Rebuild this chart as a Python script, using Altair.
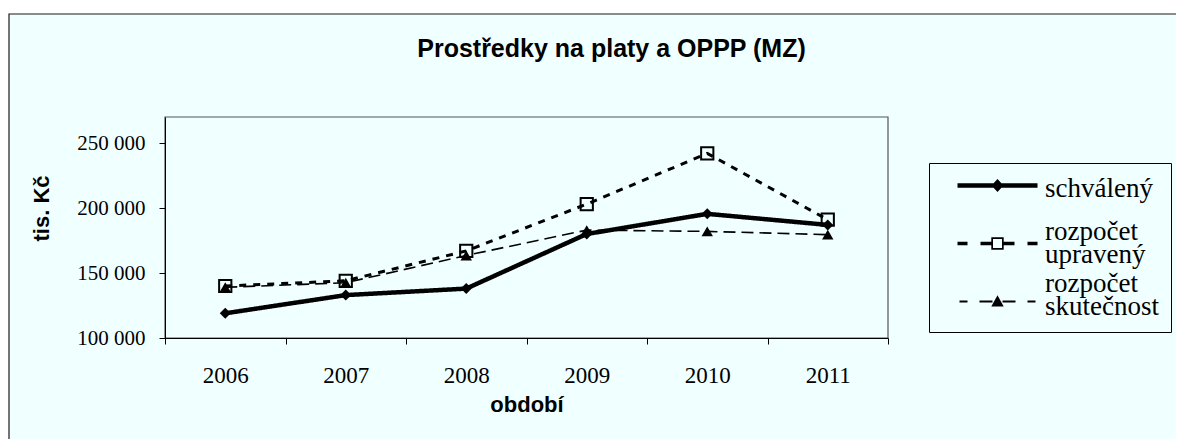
import altair as alt
import pandas as pd

# ---- data ----
years = ["2006", "2007", "2008", "2009", "2010", "2011"]
series_names = ["schválený", "rozpočet upravený", "rozpočet skutečnost"]
schvaleny = [119000, 133000, 138000, 180000, 195500, 187000]
upraveny = [140000, 144000, 167000, 203000, 242000, 191000]
skutecnost = [139000, 142500, 163500, 183000, 182000, 179500]
y_ticks = [100000, 150000, 200000, 250000]

rows = []
for name, vals in zip(series_names, [schvaleny, upraveny, skutecnost]):
    for yr, v in zip(years, vals):
        rows.append({"rok": yr, "rada": name, "hodnota": v})
df = pd.DataFrame(rows)

# ---- styling ----
W, H = 723, 221
BG = "#F0FFFF"
SERIF = "Liberation Serif"
SANS = "Liberation Sans"

line_styles = {
    "schválený": dict(strokeWidth=4.5, strokeDash=[1, 0]),
    "rozpočet upravený": dict(strokeWidth=3, strokeDash=[7, 7]),
    "rozpočet skutečnost": dict(strokeWidth=1.6, strokeDash=[12, 6]),
}
point_styles = {
    "schválený": dict(shape="diamond", filled=True, size=120, strokeWidth=0),
    "rozpočet upravený": dict(shape="square", filled=False, size=150, strokeWidth=2),
    "rozpočet skutečnost": dict(shape="triangle-up", filled=True, size=130, strokeWidth=0),
}


def rect_cw(x0, x1, y0, y1):
    return f"M{x0},{y0}H{x1}V{y1}H{x0}Z"


def rect_ccw(x0, x1, y0, y1):
    return f"M{x0},{y0}V{y1}H{x1}V{y0}Z"


def dashes(segs, t, d):
    return "".join(rect_cw(a, b, -t + d, t + d) for a, b in segs)


d1, d2, d3 = -0.3, 1.2, 1.8
legend_paths = [
    rect_cw(-4, 4, -0.22 + d1, 0.22 + d1)
    + f"M0,{-0.65 + d1}L0.6,{d1}L0,{0.65 + d1}L-0.6,{d1}Z"
    + "M0,2.7",
    dashes([(-4, -3), (-1.7, -0.62), (0.62, 1.7), (3, 4)], 0.17, d2)
    + rect_cw(-0.62, 0.62, -0.62 + d2, 0.62 + d2)
    + rect_ccw(-0.45, 0.45, -0.45 + d2, 0.45 + d2),
    dashes([(-3.8, -3), (-1.8, -0.5), (0.5, 1.8), (3, 3.8)], 0.09, d3)
    + f"M0,{-0.62 + d3}L0.62,{0.5 + d3}L-0.62,{0.5 + d3}Z",
]

x_enc = alt.X(
    "rok:O",
    sort=years,
    bandPosition=0.5,
    scale=alt.Scale(type="band", domain=years, paddingInner=0, paddingOuter=0),
    axis=alt.Axis(
        title="období",
        titleFont=SANS, titleFontSize=22, titleFontWeight="bold", titleColor="black",
        titleY=66, titleBaseline="middle",
        labelFont=SERIF, labelFontSize=23, labelColor="black", labelAngle=0,
        labelPadding=20, tickSize=6, tickColor="black", domainColor="black",
        tickBand="extent", grid=False, zindex=1,
    ),
)
y_enc = alt.Y(
    "hodnota:Q",
    scale=alt.Scale(domain=[100000, 270000], nice=False, zero=False),
    axis=alt.Axis(
        title="tis. Kč",
        titleFont=SANS, titleFontSize=22, titleFontWeight="bold", titleColor="black",
        titleX=-124, titleY=91, titleAngle=270, titleBaseline="middle", titleAlign="center",
        values=y_ticks,
        labelExpr="replace(format(datum.value, ','), ',', ' ')",
        labelFont=SERIF, labelFontSize=21, labelColor="black",
        labelPadding=14, tickSize=6, tickColor="black", domainColor="black",
        grid=False, zindex=1,
    ),
)

one = alt.Data(values=[{}])

frame = alt.Chart(one).mark_rect(fill=BG, stroke="#1a1a1a", strokeWidth=1.2).encode(
    x=alt.value(-156), x2=alt.value(1030), y=alt.value(-103), y2=alt.value(340)
)
plot_border = alt.Chart(one).mark_rect(filled=False, stroke="#555555", strokeWidth=1.2).encode(
    x=alt.value(0), x2=alt.value("width"), y=alt.value(0), y2=alt.value("height")
)

layers = [frame, plot_border]
for name in series_names:
    layers.append(
        alt.Chart(df)
        .transform_filter(alt.datum.rada == name)
        .mark_line(color="black", **line_styles[name])
        .encode(x=x_enc, y=y_enc)
    )
for name in series_names:
    layers.append(
        alt.Chart(df)
        .transform_filter(alt.datum.rada == name)
        .mark_point(color="black", opacity=1, **point_styles[name])
        .encode(x=x_enc, y=y_enc)
    )

legend_layer = (
    alt.Chart(df)
    .transform_filter("datum.hodnota < 0")
    .mark_point(filled=True, color="black", opacity=1)
    .encode(
        x=x_enc,
        y=y_enc,
        shape=alt.Shape(
            "rada:N",
            scale=alt.Scale(domain=series_names, range=legend_paths),
            legend=alt.Legend(
                title=None, orient="none", legendX=764, legendY=46,
                padding=12, strokeColor="black", fillColor=BG,
                symbolSize=400, symbolStrokeWidth=0, symbolFillColor="black",
                symbolOpacity=1, symbolOffset=43, labelOffset=34,
                labelFont=SERIF, labelFontSize=27, labelColor="black",
                labelExpr="split(datum.label, ' ')", labelLimit=300,
                rowPadding=1,
            ),
        ),
    )
)
layers.append(legend_layer)

chart = (
    alt.layer(*layers)
    .properties(
        width=W,
        height=H,
        padding={"left": 157, "top": 109, "right": 288, "bottom": 101},
        autosize=alt.AutoSizeParams(type="none"),
        title=alt.TitleParams(
            text="Prostředky na platy a OPPP (MZ)",
            font=SANS, fontSize=25, fontWeight="bold", color="black",
            anchor="middle", frame="group", offset=0, baseline="bottom",
            dx=85, dy=74,
        ),
    )
    .configure(
        background="white",
        style={"guide-label": {"lineHeight": 23, "font": SERIF}},
    )
    .configure_legend(labelFont=SERIF)
    .configure_view(strokeWidth=0)
)

chart.save("out.html", embed_options={"renderer": "svg", "actions": False})
